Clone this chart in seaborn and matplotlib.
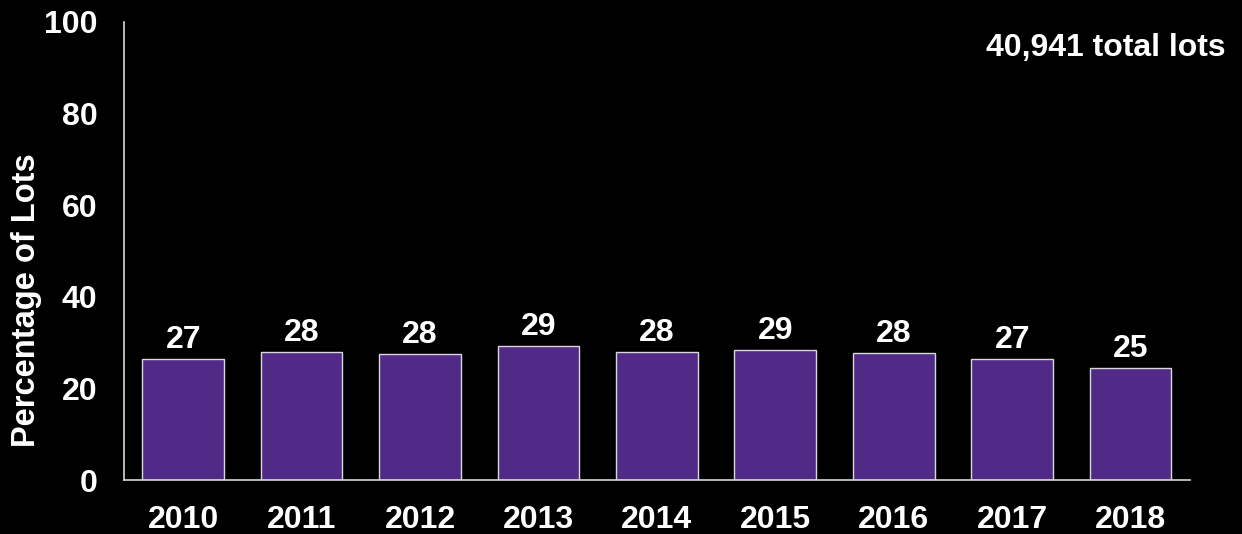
import matplotlib
matplotlib.use("Agg")
import pandas as pd
import seaborn as sns
import matplotlib.pyplot as plt

years = ['2010', '2011', '2012', '2013', '2014', '2015', '2016', '2017', '2018']
pct_lots = [26.4, 27.9, 27.5, 29.3, 27.9, 28.4, 27.7, 26.4, 24.5]
bar_labels = ['27', '28', '28', '29', '28', '29', '28', '27', '25']
total_note = '40,941 total lots'

df = pd.DataFrame({'Year': years, 'Percentage of Lots': pct_lots})

sns.set_style("dark", {"axes.facecolor": "black", "figure.facecolor": "black"})
plt.rcParams['font.family'] = ['Liberation Sans', 'DejaVu Sans']
plt.rcParams['font.weight'] = 'bold'

fig = plt.figure(figsize=(12.42, 5.34), dpi=100, facecolor='black')
ax = fig.add_axes([0.0998, 0.101, 0.8582, 0.858])
ax.set_facecolor('black')

sns.barplot(data=df, x='Year', y='Percentage of Lots', color='#512A87', saturation=1,
            width=0.69, edgecolor='#d8d8d8', linewidth=1.0, ax=ax)
ax.bar_label(ax.containers[0], labels=bar_labels, padding=3, color='white',
             fontsize=23, fontweight='bold')

ax.set_ylim(0, 100)
ax.set_xlim(-0.5, 8.5)
ax.set_yticks([0, 20, 40, 60, 80, 100])
ax.tick_params(axis='both', length=0, colors='white', labelsize=23)
ax.tick_params(axis='y', pad=19)
ax.tick_params(axis='x', pad=18)
for lbl in ax.get_xticklabels() + ax.get_yticklabels():
    lbl.set_fontweight('bold')
ax.set_xlabel('')
ax.set_ylabel('Percentage of Lots', color='white', fontsize=23.5, fontweight='bold')
ax.yaxis.set_label_coords(-0.077, 0.393)

for side in ['top', 'right']:
    ax.spines[side].set_visible(False)
for side in ['left', 'bottom']:
    ax.spines[side].set_visible(True)
    ax.spines[side].set_color('#d8d8d8')
    ax.spines[side].set_linewidth(1.2)
ax.grid(False)

fig.text(0.987, 0.91, total_note, ha='right', va='center', color='white',
         fontsize=23, fontweight='bold')

fig.savefig('out.png', dpi=100, facecolor='black')
